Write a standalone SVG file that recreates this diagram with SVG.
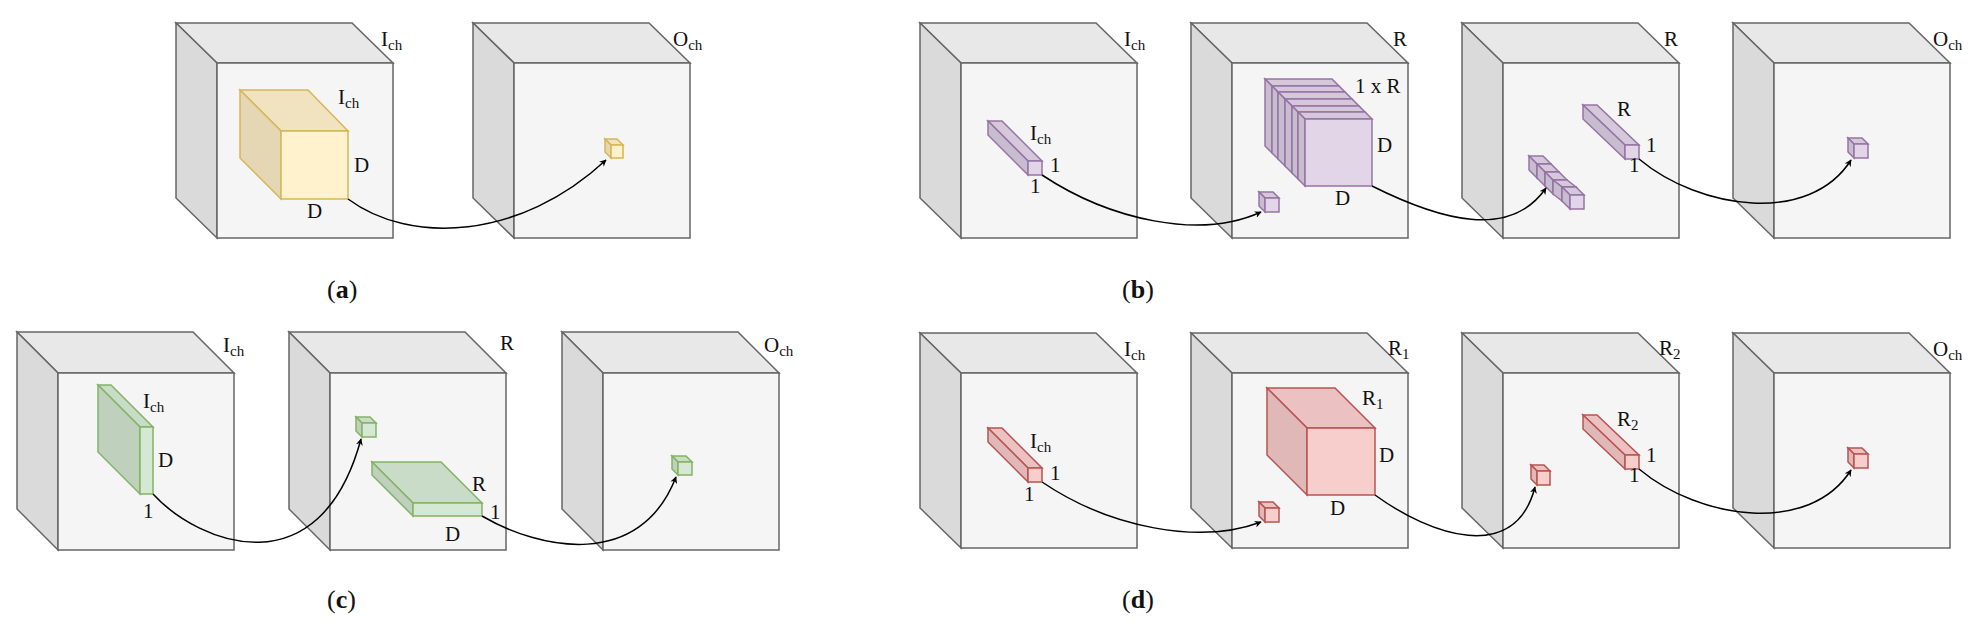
<svg xmlns="http://www.w3.org/2000/svg" xmlns:xlink="http://www.w3.org/1999/xlink" width="1985" height="628" viewBox="0 0 1985 628" font-family="'Liberation Serif','DejaVu Serif',serif">
<style>
.bf{fill:#f5f5f5;stroke:#666;stroke-width:1.5}
.bt{fill:#e8e8e8;stroke:#666;stroke-width:1.5}
.bl{fill:#dadada;stroke:#666;stroke-width:1.5}
.yf{fill:#fff2cc;stroke:#d6b656;stroke-width:1.5}.yt{fill:#f1e3bf;stroke:#d6b656;stroke-width:1.5}.yl{fill:#e5d6b4;stroke:#d6b656;stroke-width:1.5}
.pf{fill:#e1d5e7;stroke:#9673a6;stroke-width:1.5}.pt{fill:#d4c8da;stroke:#9673a6;stroke-width:1.5}.pl{fill:#c8bccf;stroke:#9673a6;stroke-width:1.5}
.gf{fill:#d5e8d4;stroke:#82b366;stroke-width:1.5}.gt{fill:#c9dcc7;stroke:#82b366;stroke-width:1.5}.gl{fill:#bfd1bd;stroke:#82b366;stroke-width:1.5}
.rf{fill:#f8cecc;stroke:#b85450;stroke-width:1.5}.rt{fill:#ebc2c1;stroke:#b85450;stroke-width:1.5}.rl{fill:#e0b8b7;stroke:#b85450;stroke-width:1.5}
text{font-family:'Liberation Serif','DejaVu Serif',serif;font-size:21px;fill:#111}
.sub{font-size:15px}
text.cap{font-size:26px}
.con{fill:none;stroke:#000;stroke-width:1.5;marker-end:url(#ah)}
</style>
<defs>
<marker id="ah" viewBox="0 0 10 10" refX="9" refY="5" markerWidth="7" markerHeight="7" orient="auto" markerUnits="userSpaceOnUse"><path d="M0,0 L10,5 L0,10 L3,5 z" fill="#000"/></marker>
<g id="big"><polygon class="bt" points="0,0 176,0 135,-40 -41,-40"/><polygon class="bl" points="0,0 -41,-40 -41,135 0,175"/><rect class="bf" x="0" y="0" width="176" height="175"/></g>
<g id="big2"><polygon class="bt" points="0,0 176,0 135,-41 -41,-41"/><polygon class="bl" points="0,0 -41,-41 -41,136 0,177"/><rect class="bf" x="0" y="0" width="176" height="177"/></g>
</defs>

<g id="a1"><use xlink:href="#big" x="217" y="63"/>
<text x="381" y="46">I<tspan class="sub" dy="4">ch</tspan></text>
<polygon class="yt" points="281,131 348,131 308,90 240,90"/><polygon class="yl" points="281,131 240,90 240,158 281,199"/><rect class="yf" x="281" y="131" width="67" height="68"/>
<text x="338" y="104">I<tspan class="sub" dy="4">ch</tspan></text><text x="354" y="172">D</text><text x="307" y="218">D</text></g>
<g id="a2"><use xlink:href="#big" x="514" y="63"/>
<text x="673" y="46">O<tspan class="sub" dy="4">ch</tspan></text>
<polygon class="yt" points="611,145 623,145 617,139 605,139"/><polygon class="yl" points="611,145 605,139 605,152 611,158"/><rect class="yf" x="611" y="145" width="12" height="13"/></g>
<text class="cap" x="327" y="298">(<tspan font-weight="bold">a</tspan>)</text>

<g id="b1"><use xlink:href="#big" x="961" y="63"/>
<text x="1124" y="46">I<tspan class="sub" dy="4">ch</tspan></text>
<polygon class="pt" points="1028,161 1042,161 1002,121 988,121"/><polygon class="pl" points="1028,161 988,121 988,135 1028,175"/><rect class="pf" x="1028" y="161" width="14" height="14"/>
<text x="1030" y="140">I<tspan class="sub" dy="4">ch</tspan></text><text x="1050" y="172">1</text><text x="1030" y="193">1</text></g>
<g id="b2"><use xlink:href="#big" x="1232" y="63"/>
<text x="1393" y="46">R</text>
<g>
<polygon class="pt" points="1272,86 1339,86 1332,79 1265,79"/><polygon class="pl" points="1272,86 1265,79 1265,146 1272,153"/>
<polygon class="pt" points="1278,92 1345,92 1339,86 1272,86"/><polygon class="pl" points="1278,92 1272,86 1272,153 1278,159"/>
<polygon class="pt" points="1285,99 1352,99 1345,92 1278,92"/><polygon class="pl" points="1285,99 1278,92 1278,159 1285,166"/>
<polygon class="pt" points="1292,106 1359,106 1352,99 1285,99"/><polygon class="pl" points="1292,106 1285,99 1285,166 1292,173"/>
<polygon class="pt" points="1298,112 1365,112 1359,106 1292,106"/><polygon class="pl" points="1298,112 1292,106 1292,173 1298,179"/>
<polygon class="pt" points="1305,119 1372,119 1365,112 1298,112"/><polygon class="pl" points="1305,119 1298,112 1298,179 1305,186"/>
<rect class="pf" x="1305" y="119" width="67" height="67"/></g>
<text x="1355" y="93">1 x R</text><text x="1377" y="152">D</text><text x="1335" y="205">D</text>
<polygon class="pt" points="1265,198 1279,198 1273,192 1259,192"/><polygon class="pl" points="1265,198 1259,192 1259,206 1265,212"/><rect class="pf" x="1265" y="198" width="14" height="14"/></g>
<g id="b3"><use xlink:href="#big" x="1503" y="63"/>
<text x="1664" y="46">R</text>
<polygon class="pt" points="1537,164 1551,164 1543,156 1529,156"/><polygon class="pl" points="1537,164 1529,156 1529,170 1537,178"/><rect class="pf" x="1537" y="164" width="14" height="14"/>
<polygon class="pt" points="1545,172 1559,172 1551,164 1537,164"/><polygon class="pl" points="1545,172 1537,164 1537,178 1545,186"/><rect class="pf" x="1545" y="172" width="14" height="14"/>
<polygon class="pt" points="1553,180 1567,180 1559,172 1545,172"/><polygon class="pl" points="1553,180 1545,172 1545,186 1553,194"/><rect class="pf" x="1553" y="180" width="14" height="14"/>
<polygon class="pt" points="1562,187 1576,187 1567,180 1553,180"/><polygon class="pl" points="1562,187 1553,180 1553,194 1562,201"/><rect class="pf" x="1562" y="187" width="14" height="14"/>
<polygon class="pt" points="1570,195 1584,195 1576,187 1562,187"/><polygon class="pl" points="1570,195 1562,187 1562,201 1570,209"/><rect class="pf" x="1570" y="195" width="14" height="14"/>
<polygon class="pt" points="1625,145 1639,145 1597,105 1583,105"/><polygon class="pl" points="1625,145 1583,105 1583,119 1625,159"/><rect class="pf" x="1625" y="145" width="14" height="14"/>
<text x="1617" y="116">R</text><text x="1646" y="152">1</text><text x="1629" y="172">1</text></g>
<g id="b4"><use xlink:href="#big" x="1774" y="63"/>
<text x="1933" y="46">O<tspan class="sub" dy="4">ch</tspan></text>
<polygon class="pt" points="1854,144 1868,144 1862,138 1848,138"/><polygon class="pl" points="1854,144 1848,138 1848,152 1854,158"/><rect class="pf" x="1854" y="144" width="14" height="14"/></g>
<text class="cap" x="1122" y="298">(<tspan font-weight="bold">b</tspan>)</text>

<g id="c1"><use xlink:href="#big2" x="58" y="373"/>
<text x="223" y="352">I<tspan class="sub" dy="4">ch</tspan></text>
<polygon class="gt" points="140,427 153,427 111,385 98,385"/><polygon class="gl" points="140,427 98,385 98,452 140,494"/><rect class="gf" x="140" y="427" width="13" height="67"/>
<text x="143" y="408">I<tspan class="sub" dy="4">ch</tspan></text><text x="158" y="467">D</text><text x="143" y="518">1</text></g>
<g id="c2"><use xlink:href="#big2" x="330" y="373"/>
<text x="500" y="350">R</text>
<polygon class="gt" points="362,423 376,423 370,417 356,417"/><polygon class="gl" points="362,423 356,417 356,431 362,437"/><rect class="gf" x="362" y="423" width="14" height="14"/>
<polygon class="gt" points="413,503 482,503 441,462 372,462"/><polygon class="gl" points="413,503 372,462 372,475 413,516"/><rect class="gf" x="413" y="503" width="69" height="13"/>
<text x="472" y="491">R</text><text x="490" y="519">1</text><text x="445" y="541">D</text></g>
<g id="c3"><use xlink:href="#big2" x="603" y="373"/>
<text x="764" y="352">O<tspan class="sub" dy="4">ch</tspan></text>
<polygon class="gt" points="678,462 692,462 686,456 672,456"/><polygon class="gl" points="678,462 672,456 672,469 678,475"/><rect class="gf" x="678" y="462" width="14" height="13"/></g>
<text class="cap" x="327" y="608">(<tspan font-weight="bold">c</tspan>)</text>

<g id="d1"><use xlink:href="#big" x="961" y="373"/>
<text x="1124" y="356">I<tspan class="sub" dy="4">ch</tspan></text>
<polygon class="rt" points="1028,468 1042,468 1002,428 988,428"/><polygon class="rl" points="1028,468 988,428 988,442 1028,482"/><rect class="rf" x="1028" y="468" width="14" height="14"/>
<text x="1030" y="448">I<tspan class="sub" dy="4">ch</tspan></text><text x="1050" y="480">1</text><text x="1024" y="501">1</text></g>
<g id="d2"><use xlink:href="#big" x="1232" y="373"/>
<text x="1388" y="355">R<tspan class="sub" dy="4">1</tspan></text>
<polygon class="rt" points="1307,428 1375,428 1335,388 1267,388"/><polygon class="rl" points="1307,428 1267,388 1267,455 1307,495"/><rect class="rf" x="1307" y="428" width="68" height="67"/>
<text x="1362" y="405">R<tspan class="sub" dy="4">1</tspan></text><text x="1379" y="462">D</text><text x="1330" y="515">D</text>
<polygon class="rt" points="1265,508 1279,508 1273,502 1259,502"/><polygon class="rl" points="1265,508 1259,502 1259,516 1265,522"/><rect class="rf" x="1265" y="508" width="14" height="14"/></g>
<g id="d3"><use xlink:href="#big" x="1503" y="373"/>
<text x="1659" y="355">R<tspan class="sub" dy="4">2</tspan></text>
<polygon class="rt" points="1537,471 1550,471 1544,465 1531,465"/><polygon class="rl" points="1537,471 1531,465 1531,479 1537,485"/><rect class="rf" x="1537" y="471" width="13" height="14"/>
<polygon class="rt" points="1625,455 1639,455 1597,415 1583,415"/><polygon class="rl" points="1625,455 1583,415 1583,429 1625,469"/><rect class="rf" x="1625" y="455" width="14" height="14"/>
<text x="1617" y="426">R<tspan class="sub" dy="4">2</tspan></text><text x="1646" y="462">1</text><text x="1629" y="482">1</text></g>
<g id="d4"><use xlink:href="#big" x="1774" y="373"/>
<text x="1933" y="356">O<tspan class="sub" dy="4">ch</tspan></text>
<polygon class="rt" points="1854,454 1868,454 1862,448 1848,448"/><polygon class="rl" points="1854,454 1848,448 1848,462 1854,468"/><rect class="rf" x="1854" y="454" width="14" height="14"/></g>
<text class="cap" x="1122" y="608">(<tspan font-weight="bold">d</tspan>)</text>

<g id="connectors">
<path class="con" d="M348,199 C410,245 520,240 606,160"/>
<path class="con" d="M1042,175 C1110,220 1200,240 1261,212"/>
<path class="con" d="M1372,186 C1440,220 1510,240 1546,188"/>
<path class="con" d="M1639,159 C1700,210 1810,225 1851,160"/>
<path class="con" d="M153,494 C200,545 320,590 361,439"/>
<path class="con" d="M482,516 C540,550 640,570 676,477"/>
<path class="con" d="M1042,482 C1110,528 1200,545 1261,522"/>
<path class="con" d="M1375,495 C1430,535 1515,565 1535,487"/>
<path class="con" d="M1639,469 C1700,520 1810,535 1851,470"/>
</g>
</svg>
